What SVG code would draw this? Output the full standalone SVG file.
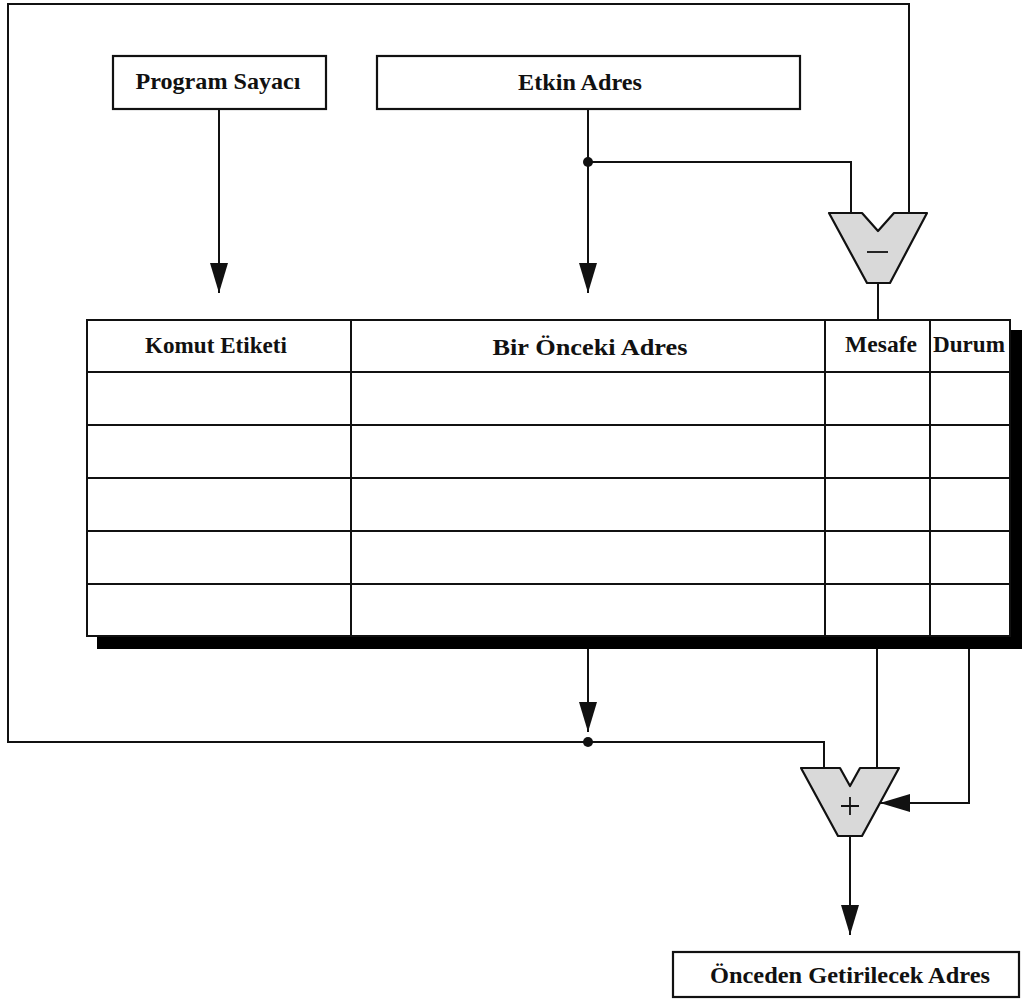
<svg xmlns="http://www.w3.org/2000/svg" width="1022" height="1002" viewBox="0 0 1022 1002">
  <style>
    .box { fill: #ffffff; stroke: #111111; stroke-width: 2.2; }
    .wire { fill: none; stroke: #111111; stroke-width: 2; }
    .grid { fill: none; stroke: #111111; stroke-width: 2; }
    .sheet { fill: #ffffff; stroke: #111111; stroke-width: 2; }
    .alu { fill: #d9d9d9; stroke: #111111; stroke-width: 2.2; stroke-linejoin: round; }
    .sign { fill: none; stroke: #111111; stroke-width: 1.8; }
    .lbl { font-family: "Liberation Serif", "Times New Roman", serif; font-weight: bold; font-size: 23px; fill: #111111; text-anchor: middle; }
  </style>
  <defs>
    <marker id="arrow" markerUnits="userSpaceOnUse" markerWidth="30" markerHeight="18" refX="30" refY="9" orient="auto" viewBox="0 0 30 18">
      <path d="M0,0 L30,9 L0,18 Z" fill="#111111"/>
    </marker>
  </defs>

  <rect width="1022" height="1002" fill="#ffffff"/>

  <!-- connectors -->
  <g id="connectors">
    <!-- loop from the table output back to both ALUs -->
    <path class="wire" d="M824,768 V742 H8 V4 H909 V214"/>
    <!-- effective address to subtractor -->
    <path class="wire" d="M588,162 H851 V214"/>
    <!-- subtractor result into stride column -->
    <path class="wire" d="M878,283 V320"/>
    <!-- stride column into adder -->
    <path class="wire" d="M877,649 V768"/>
    <!-- arrows -->
    <path class="wire" d="M219,109 V293" marker-end="url(#arrow)"/>
    <path class="wire" d="M588,109 V293" marker-end="url(#arrow)"/>
    <path class="wire" d="M588,649 V732" marker-end="url(#arrow)"/>
    <path class="wire" d="M969,649 V803 H880" marker-end="url(#arrow)"/>
    <path class="wire" d="M850,836 V935" marker-end="url(#arrow)"/>
    <!-- junction dots -->
    <circle cx="588" cy="162" r="5" fill="#111111"/>
    <circle cx="588" cy="742" r="5" fill="#111111"/>
  </g>

  <g id="program-counter">
    <rect class="box" x="113" y="56" width="213" height="53"/>
    <text class="lbl" x="218" y="89" textLength="165" lengthAdjust="spacingAndGlyphs">Program Sayacı</text>
  </g>

  <g id="effective-address">
    <rect class="box" x="377" y="56" width="423" height="53"/>
    <text class="lbl" x="580" y="90" textLength="124" lengthAdjust="spacingAndGlyphs">Etkin Adres</text>
  </g>

  <g id="subtractor">
    <polygon class="alu" points="829,213 862,213 878,231 894,213 927,213 890,283 867,283"/>
    <line class="sign" x1="867" y1="252" x2="888" y2="252"/>
  </g>

  <g id="reference-table">
    <!-- drop shadow -->
    <rect x="97" y="330" width="925" height="319" fill="#000000"/>
    <rect class="sheet" x="87" y="320" width="923" height="316"/>
    <path class="grid" d="M351,320 V636 M825,320 V636 M930,320 V636"/>
    <path class="grid" d="M87,372 H1010 M87,425 H1010 M87,478 H1010 M87,531 H1010 M87,584 H1010"/>
    <text class="lbl" x="216" y="353" textLength="142" lengthAdjust="spacingAndGlyphs">Komut Etiketi</text>
    <text class="lbl" x="590" y="355" textLength="195" lengthAdjust="spacingAndGlyphs">Bir Önceki Adres</text>
    <text class="lbl" x="881" y="352" textLength="72" lengthAdjust="spacingAndGlyphs">Mesafe</text>
    <text class="lbl" x="969" y="352" textLength="72" lengthAdjust="spacingAndGlyphs">Durum</text>
  </g>

  <g id="adder">
    <polygon class="alu" points="801,768 840,768 850,786 860,768 899,768 862,836 838,836"/>
    <path class="sign" d="M841,806 H859 M850,797 V815"/>
  </g>

  <g id="prefetch-address">
    <rect class="box" x="673" y="952" width="346" height="45"/>
    <text class="lbl" x="850" y="983" textLength="280" lengthAdjust="spacingAndGlyphs">Önceden Getirilecek Adres</text>
  </g>
</svg>
